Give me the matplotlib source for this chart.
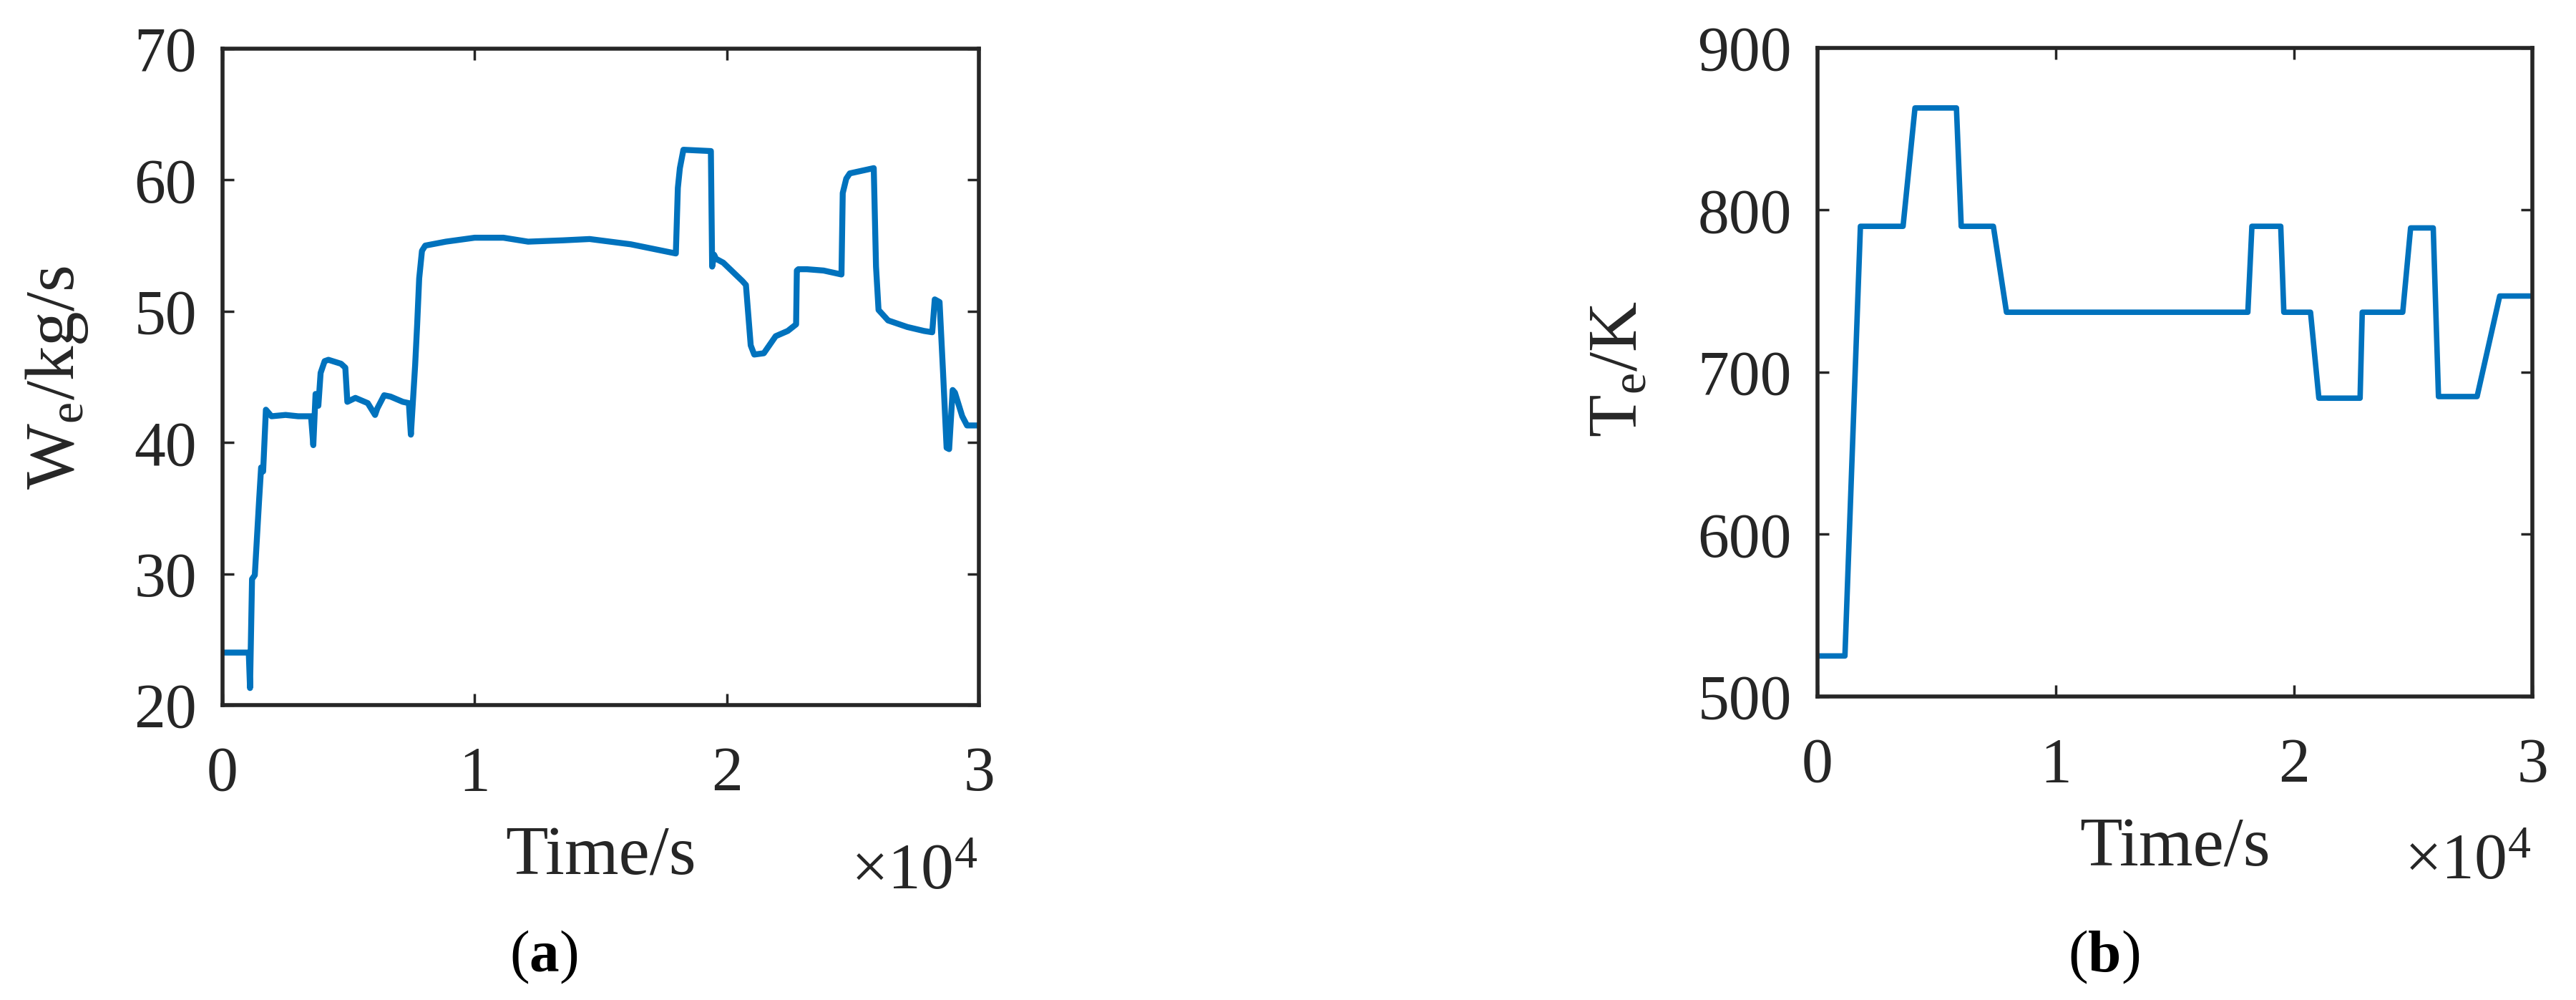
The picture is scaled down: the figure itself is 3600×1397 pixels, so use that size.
import numpy as np
import matplotlib
matplotlib.use('Agg')
import matplotlib.pyplot as plt

# Times-like serif font
plt.rcParams['font.family'] = ['Liberation Serif', 'DejaVu Serif']
plt.rcParams['mathtext.fontset'] = 'custom'
plt.rcParams['mathtext.rm'] = 'Liberation Serif'
plt.rcParams['mathtext.it'] = 'Liberation Serif:italic'
plt.rcParams['mathtext.bf'] = 'Liberation Serif:bold'

# (a) exhaust mass flow W_e (kg/s)
t_a = [0, 1040, 1090, 1170, 1280, 1450, 1530, 1610, 1720, 1940, 2500, 3000, 3510,
       3600, 3690, 3800, 3890, 4050, 4200, 4700, 4870, 4950, 5270, 5760, 6050, 6140,
       6410, 6660, 7150, 7390, 7470, 7550, 7640, 7720, 7800, 7910, 8040, 8860, 10000,
       11140, 12120, 13500, 14560, 16190, 17980, 18060, 18140, 18280, 19370, 19420,
       19500, 19570, 19860, 20620, 20760, 20950, 21090, 21470, 21940, 22420, 22750,
       22780, 22840, 23180, 23840, 24550, 24600, 24740, 24880, 25830, 25920, 26020,
       26400, 27160, 27820, 28150, 28250, 28440, 28580, 28720, 28820, 28960, 29050,
       29340, 29530, 30000]
w_e = [24.0, 24.0, 21.3, 29.6, 29.9, 35.6, 38.1, 37.8, 42.5, 42.0, 42.1, 42.0, 42.0,
       39.8, 43.7, 42.8, 45.3, 46.2, 46.3, 46.0, 45.7, 43.1, 43.4, 43.0, 42.1, 42.6,
       43.6, 43.5, 43.1, 43.0, 40.6, 43.1, 45.9, 49.0, 52.5, 54.6, 55.0, 55.3, 55.6,
       55.6, 55.3, 55.4, 55.5, 55.1, 54.4, 59.4, 60.9, 62.3, 62.2, 53.4,
       54.3, 54.0, 53.7, 52.3, 52.0, 47.4, 46.7, 46.8, 48.1, 48.5, 49.0,
       53.1, 53.2, 53.2, 53.1, 52.8, 59.0, 60.1, 60.5, 60.9, 53.4, 50.1,
       49.3, 48.8, 48.5, 48.4, 50.9, 50.7, 45.3, 39.6, 39.5, 44.0, 43.8,
       42.0, 41.3, 41.3]

# (b) exhaust temperature T_e (K)
t_b = [0, 1150, 1800, 3590, 4090, 5830, 6030, 7380, 7930, 18060, 18230, 19440, 19570,
       20690, 21040, 22770, 22860, 24560, 24890, 25840, 26060, 27680, 28630, 30000]
t_e = [525, 525, 790, 790, 863, 863, 790, 790, 737, 737, 790, 790, 737,
       737, 684, 684, 737, 737, 789, 789, 685, 685, 747, 747]

x_ticks = [0, 10000, 20000, 30000]
x_tick_labels = ['0', '1', '2', '3']
ya_ticks = [20, 30, 40, 50, 60, 70]
yb_ticks = [500, 600, 700, 800, 900]

blue = '#0072BD'
dark = '#262626'

fig = plt.figure(figsize=(36, 13.97), dpi=100)
ax1 = fig.add_axes([0.08639, 0.29492, 0.29361, 0.65641])
ax2 = fig.add_axes([0.70556, 0.30351, 0.2775, 0.64853])

ax1.plot(t_a, w_e, color=blue, lw=6, solid_joinstyle='round')
ax2.plot(t_b, t_e, color=blue, lw=5.5, solid_joinstyle='round')

ax1.set_ylim(20, 70)
ax1.set_yticks(ya_ticks)
ax2.set_ylim(500, 900)
ax2.set_yticks(yb_ticks)

for ax in (ax1, ax2):
    ax.set_xlim(0, 30000)
    ax.set_xticks(x_ticks)
    ax.set_xticklabels(x_tick_labels)
    ax.tick_params(direction='in', length=11.5, width=2.5, color=dark, labelcolor=dark,
                   labelsize=63, top=True, right=True)
    ax.tick_params(axis='y', pad=26)
    ax.tick_params(axis='x', pad=41)
    for s in ax.spines.values():
        s.set_linewidth(4)
        s.set_color(dark)

# axis labels
fig.text(839.5 / 3600, 0.1253, 'Time/s', fontsize=70, color=dark, ha='center', va='baseline')
fig.text(3039.5 / 3600, 0.1339, 'Time/s', fontsize=70, color=dark, ha='center', va='baseline')
fig.text(1366 / 3600, 0.1109, r'$\times10^{4}$', fontsize=66, color=dark, ha='right', va='baseline')
fig.text(3537 / 3600, 0.1210, r'$\times10^{4}$', fontsize=66, color=dark, ha='right', va='baseline')

fig.text(0.0286, 0.622, r'W$_{\mathrm{e}}$/kg/s', fontsize=70, color=dark, rotation=90,
         rotation_mode='anchor', ha='center', va='baseline')
fig.text(0.6353, 0.6306, r'T$_{\mathrm{e}}$/K', fontsize=70, color=dark, rotation=90,
         rotation_mode='anchor', ha='center', va='baseline')

# captions
fig.text(760 / 3600, 0.0286, r'($\mathbf{a}$)', fontsize=60, ha='center', va='baseline')
fig.text(2940 / 3600, 0.0286, r'($\mathbf{b}$)', fontsize=60, ha='center', va='baseline')

fig.savefig('out.png', dpi=100, facecolor='white')
